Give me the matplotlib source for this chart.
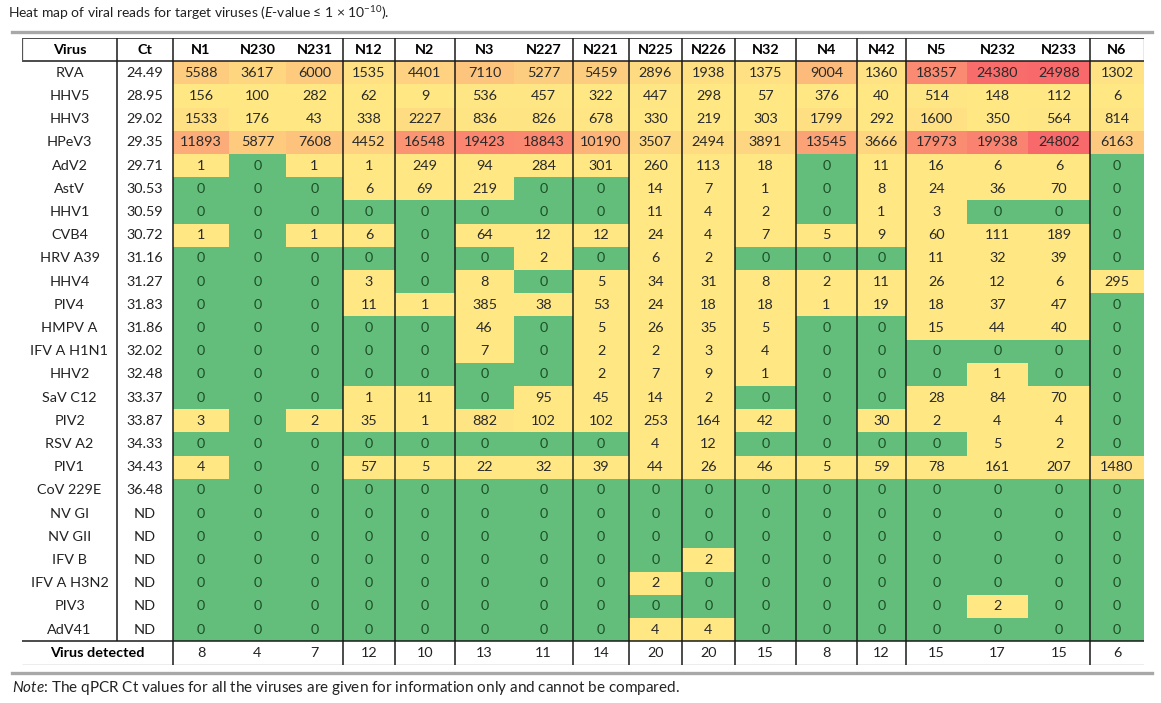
import matplotlib
matplotlib.use('Agg')
import matplotlib.pyplot as plt
import numpy as np
from matplotlib.colors import LinearSegmentedColormap, TwoSlopeNorm
from matplotlib.lines import Line2D

viruses = ['RVA', 'HHV5', 'HHV3', 'HPeV3', 'AdV2', 'AstV', 'HHV1', 'CVB4', 'HRV A39', 'HHV4',
           'PIV4', 'HMPV A', 'IFV A H1N1', 'HHV2', 'SaV C12', 'PIV2', 'RSV A2', 'PIV1', 'CoV 229E',
           'NV GI', 'NV GII', 'IFV B', 'IFV A H3N2', 'PIV3', 'AdV41']
ct_values = ['24.49', '28.95', '29.02', '29.35', '29.71', '30.53', '30.59', '30.72', '31.16', '31.27',
             '31.83', '31.86', '32.02', '32.48', '33.37', '33.87', '34.33', '34.43', '36.48',
             'ND', 'ND', 'ND', 'ND', 'ND', 'ND']
samples = ['N1', 'N230', 'N231', 'N12', 'N2', 'N3', 'N227', 'N221', 'N225', 'N226', 'N32',
           'N4', 'N42', 'N5', 'N232', 'N233', 'N6']

# viral reads, one row per virus, one column per sample
reads = [
    [5588, 3617, 6000, 1535, 4401, 7110, 5277, 5459, 2896, 1938, 1375, 9004, 1360, 18357, 24380, 24988, 1302],
    [156, 100, 282, 62, 9, 536, 457, 322, 447, 298, 57, 376, 40, 514, 148, 112, 6],
    [1533, 176, 43, 338, 2227, 836, 826, 678, 330, 219, 303, 1799, 292, 1600, 350, 564, 814],
    [11893, 5877, 7608, 4452, 16548, 19423, 18843, 10190, 3507, 2494, 3891, 13545, 3666, 17973, 19938, 24802, 6163],
    [1, 0, 1, 1, 249, 94, 284, 301, 260, 113, 18, 0, 11, 16, 6, 6, 0],
    [0, 0, 0, 6, 69, 219, 0, 0, 14, 7, 1, 0, 8, 24, 36, 70, 0],
    [0, 0, 0, 0, 0, 0, 0, 0, 11, 4, 2, 0, 1, 3, 0, 0, 0],
    [1, 0, 1, 6, 0, 64, 12, 12, 24, 4, 7, 5, 9, 60, 111, 189, 0],
    [0, 0, 0, 0, 0, 0, 2, 0, 6, 2, 0, 0, 0, 11, 32, 39, 0],
    [0, 0, 0, 3, 0, 8, 0, 5, 34, 31, 8, 2, 11, 26, 12, 6, 295],
    [0, 0, 0, 11, 1, 385, 38, 53, 24, 18, 18, 1, 19, 18, 37, 47, 0],
    [0, 0, 0, 0, 0, 46, 0, 5, 26, 35, 5, 0, 0, 15, 44, 40, 0],
    [0, 0, 0, 0, 0, 7, 0, 2, 2, 3, 4, 0, 0, 0, 0, 0, 0],
    [0, 0, 0, 0, 0, 0, 0, 2, 7, 9, 1, 0, 0, 0, 1, 0, 0],
    [0, 0, 0, 1, 11, 0, 95, 45, 14, 2, 0, 0, 0, 28, 84, 70, 0],
    [3, 0, 2, 35, 1, 882, 102, 102, 253, 164, 42, 0, 30, 2, 4, 4, 0],
    [0, 0, 0, 0, 0, 0, 0, 0, 4, 12, 0, 0, 0, 0, 5, 2, 0],
    [4, 0, 0, 57, 5, 22, 32, 39, 44, 26, 46, 5, 59, 78, 161, 207, 1480],
    [0, 0, 0, 0, 0, 0, 0, 0, 0, 0, 0, 0, 0, 0, 0, 0, 0],
    [0, 0, 0, 0, 0, 0, 0, 0, 0, 0, 0, 0, 0, 0, 0, 0, 0],
    [0, 0, 0, 0, 0, 0, 0, 0, 0, 0, 0, 0, 0, 0, 0, 0, 0],
    [0, 0, 0, 0, 0, 0, 0, 0, 0, 2, 0, 0, 0, 0, 0, 0, 0],
    [0, 0, 0, 0, 0, 0, 0, 0, 2, 0, 0, 0, 0, 0, 0, 0, 0],
    [0, 0, 0, 0, 0, 0, 0, 0, 0, 0, 0, 0, 0, 0, 2, 0, 0],
    [0, 0, 0, 0, 0, 0, 0, 0, 4, 4, 0, 0, 0, 0, 0, 0, 0],
]
detected = [8, 4, 7, 12, 10, 13, 11, 14, 20, 20, 15, 8, 12, 15, 17, 15, 6]

plt.rcParams['font.family'] = ['Lato', 'DejaVu Sans']
plt.rcParams['mathtext.fontset'] = 'custom'
plt.rcParams['mathtext.rm'] = 'Lato'
plt.rcParams['mathtext.it'] = 'Lato:italic'

W, H = 1161, 703
fig = plt.figure(figsize=(W / 100, H / 100), dpi=100)

# table box in pixels
left, right, top, bottom = 22, 1144, 38, 664.5
ax = fig.add_axes([left / W, 1 - bottom / H, (right - left) / W, (bottom - top) / H])
col_w = [95, 56, 56, 57, 57, 52, 60, 59, 59, 56, 53, 53, 61, 61, 49, 61, 61, 62, 54]
edges = np.concatenate([[0], np.cumsum(col_w)])
cx = (edges[:-1] + edges[1:]) / 2
n_rows = len(viruses) + 2
ax.set_xlim(0, edges[-1])
ax.set_ylim(n_rows, 0)
ax.axis('off')

# excel style 3 colour scale: 0 green, small yellow, max red
data = np.array(reads, dtype=float)
cmap = LinearSegmentedColormap.from_list('xl', ['#63BE7B', '#FFE884', '#F8696B'])
norm = TwoSlopeNorm(vmin=0, vcenter=1, vmax=data.max())
ax.pcolormesh(edges[2:], np.arange(1, len(viruses) + 2), data, cmap=cmap, norm=norm,
              shading='flat', edgecolors='face', linewidth=0)

fs = 10.4
ax.text(cx[0], 0.5, 'Virus', ha='center', va='center', fontsize=fs, fontweight='bold')
ax.text(cx[1], 0.5, 'Ct', ha='center', va='center', fontsize=fs, fontweight='bold')
for j, s in enumerate(samples):
    ax.text(cx[j + 2], 0.5, s, ha='center', va='center', fontsize=fs, fontweight='bold')

for i, v in enumerate(viruses):
    y = i + 1.5
    ax.text(cx[0], y, v, ha='center', va='center', fontsize=fs, color='#222222')
    ax.text(cx[1], y, ct_values[i], ha='center', va='center', fontsize=fs, color='#222222')
    for j, val in enumerate(reads[i]):
        c = '#1d4f27' if val == 0 else '#2a2a2a'
        ax.text(cx[j + 2], y, str(val), ha='center', va='center', fontsize=fs, color=c)

ax.text(edges[2] / 2, n_rows - 0.5, 'Virus detected', ha='center', va='center',
        fontsize=fs, fontweight='bold')
for j, d in enumerate(detected):
    ax.text(cx[j + 2], n_rows - 0.5, str(d), ha='center', va='center', fontsize=fs, color='#222222')

# grid lines
ax.hlines([0, 1, n_rows - 1], 0, edges[-1], color='#1a1a1a', lw=1.1)
ax.hlines([n_rows], 0, edges[-1], color='#777777', lw=0.9)
groups = [2, 5, 6, 7, 9, 10, 11, 12, 13, 14, 15, 18]
ax.vlines(edges[groups], 0, n_rows, color='#1a1a1a', lw=1.1)
ax.vlines(edges[1], 0, n_rows - 1, color='#1a1a1a', lw=1.1)
ax.vlines([edges[0], edges[-1]], 0, 1, color='#555555', lw=0.9)

# rules above and below the table
fig.add_artist(Line2D([12 / W, 1152 / W], [1 - 32 / H] * 2, color='#a8a8a8', lw=2.4))
fig.add_artist(Line2D([12 / W, 1152 / W], [1 - 673 / H] * 2, color='#a8a8a8', lw=2.4))

fig.text(8 / W, 1 - 13 / H,
         'Heat map of viral reads for target viruses ($\\mathit{E}$-value ≤ 1 × 10$^{-10}$).',
         ha='left', va='center', fontsize=10, color='#222222')
fig.text(12 / W, 1 - 688 / H,
         '$\\mathit{Note}$: The qPCR Ct values for all the viruses are given for information only and cannot be compared.',
         ha='left', va='center', fontsize=11, color='#222222')

fig.savefig('out.png', dpi=100)
